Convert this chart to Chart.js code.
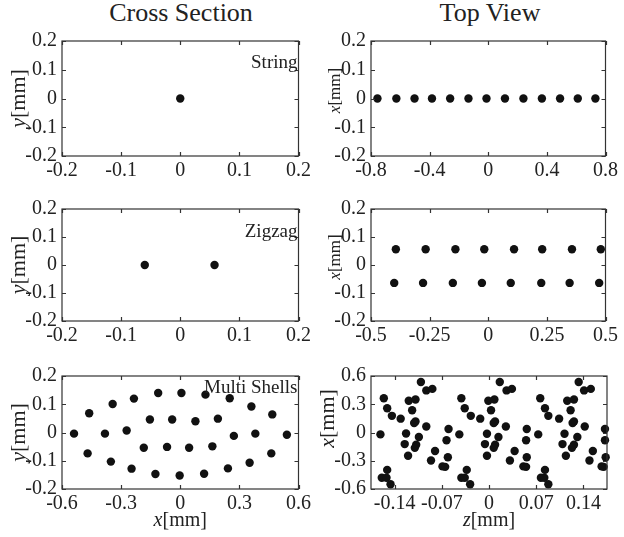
<!DOCTYPE html>
<html>
<head>
<meta charset="UTF-8">
<title>Cross Section / Top View</title>
<script src="https://cdn.jsdelivr.net/npm/chart.js"></script>
<style>
  body { margin: 0; background: #fff; }
  #wrap { position: relative; width: 624px; height: 537px; font-family: "Liberation Serif", serif; color: #222; }
  canvas { position: absolute; }
  .head { position: absolute; top: 0; width: 240px; font-size: 26px; line-height: 25px; text-align: center; }
</style>
</head>
<body>
<div id="wrap">
  <div class="head" style="left:61px">Cross Section</div>
  <div class="head" style="left:370px">Top View</div>
  <canvas id="c1"></canvas>
  <canvas id="c2"></canvas>
  <canvas id="c3"></canvas>
  <canvas id="c4"></canvas>
  <canvas id="c5"></canvas>
  <canvas id="c6"></canvas>
</div>
<script>
// --- data (mm) ---
// String
const stringCrossX = [0];
const stringCrossY = [0];
const stringTopZ = [-0.756, -0.627, -0.503, -0.384, -0.26, -0.135, -0.012, 0.114, 0.24, 0.366, 0.49, 0.611, 0.731];
const stringTopX = [0, 0, 0, 0, 0, 0, 0, 0, 0, 0, 0, 0, 0];

// Zigzag
const zigCrossX = [-0.06, 0.058];
const zigCrossY = [0, 0];
const zigTopZ = [-0.394, -0.267, -0.140, -0.017, 0.110, 0.230, 0.357, 0.480,
                 -0.401, -0.278, -0.151, -0.027, 0.096, 0.226, 0.347, 0.473];
const zigTopX = [0.056, 0.056, 0.056, 0.056, 0.056, 0.056, 0.056, 0.056,
                 -0.064, -0.064, -0.064, -0.064, -0.064, -0.064, -0.064, -0.064];

// Multi shells
const shellCrossX = [-0.539, -0.462, -0.47, -0.343, -0.352, -0.235, -0.247, -0.112, -0.126, 0.006,
                     -0.003, 0.128, 0.121, 0.251, 0.242, 0.361, 0.352, 0.467, 0.462, 0.541,
                     -0.382, -0.272, -0.154, -0.041, 0.077, 0.191, -0.185, -0.067, 0.045, 0.163,
                     0.272, 0.381];
const shellCrossY = [-0.004, 0.068, -0.074, 0.101, -0.103, 0.12, -0.128, 0.14, -0.147, 0.14,
                     -0.152, 0.134, -0.146, 0.121, -0.127, 0.092, -0.107, 0.064, -0.074, -0.008,
                     -0.004, 0.007, 0.046, 0.046, 0.04, 0.049, -0.054, -0.051, -0.054, -0.049,
                     -0.012, -0.004];
const shellTopZ = [-0.101, -0.093, -0.084, -0.156, -0.119, -0.109, -0.151, -0.114, -0.144, -0.131,
                   -0.109, -0.111, -0.093, -0.161, -0.123, -0.060, -0.104, -0.044, -0.063, -0.125,
                   -0.108, -0.110, -0.080, -0.120, -0.061, -0.086, -0.069, -0.065, -0.151, -0.159,
                   -0.152, -0.146, -0.041, -0.036, -0.027, -0.013, -0.041, -0.036, -0.033, -0.028,
                   0.016, 0.026, 0.034, -0.001, 0.008, 0.003, 0.009, 0.007, 0.025, -0.003,
                   0.014, -0.006, 0.009, 0.007, -0.003, 0.038, 0.031, 0.056, 0.055, 0.056,
                   0.051, 0.055, 0.073, 0.076, 0.083, 0.088, 0.104, 0.083, 0.077, 0.082,
                   0.088, 0.133, 0.141, 0.151, 0.116, 0.126, 0.121, 0.126, 0.124, 0.142,
                   0.112, 0.131, 0.109, 0.126, 0.123, 0.114, 0.154, 0.149, 0.172, 0.172,
                   0.173, 0.167, 0.170];
const shellTopX = [0.537, 0.447, 0.463, 0.363, 0.337, 0.350, 0.257, 0.237, 0.177, 0.147,
                   0.117, 0.100, 0.063, -0.020, -0.010, 0.037, -0.047, -0.020, -0.083, -0.123,
                   -0.130, -0.163, -0.197, -0.247, -0.263, -0.297, -0.360, -0.365, -0.397, -0.480,
                   -0.480, -0.550, 0.363, 0.257, 0.177, 0.147, -0.480, -0.480, -0.397, -0.550,
                   0.537, 0.447, 0.463, 0.337, 0.350, 0.237, 0.117, 0.100, 0.063, -0.013,
                   -0.047, -0.123, -0.130, -0.163, -0.247, -0.197, -0.297, 0.037, -0.083, -0.263,
                   -0.360, -0.365, -0.020, 0.363, 0.257, 0.177, 0.147, -0.397, -0.480, -0.480,
                   -0.550, 0.537, 0.447, 0.463, 0.337, 0.350, 0.237, 0.117, 0.100, 0.063,
                   -0.013, -0.047, -0.123, -0.130, -0.163, -0.247, -0.197, -0.297, 0.037, -0.083,
                   -0.263, -0.360, -0.365];

// tick labels
const ticks02 = [-0.2, -0.1, 0, 0.1, 0.2];
const ticks08 = [-0.8, -0.4, 0, 0.4, 0.8];
const ticks05 = [-0.5, -0.25, 0, 0.25, 0.5];
const ticks06 = [-0.6, -0.3, 0, 0.3, 0.6];
const ticks014 = [-0.14, -0.07, 0, 0.07, 0.14];

const FONT = '"Liberation Serif", serif';
const INK = '#222';

// box, inward ticks, inner label and axis titles (MATLAB look)
const frame = {
  id: 'frame',
  afterDraw(chart, args, o) {
    const { ctx, chartArea: a, scales: { x, y } } = chart;
    ctx.save();
    ctx.strokeStyle = '#333';
    ctx.lineWidth = 1.2;
    ctx.strokeRect(a.left, a.top, a.width, a.height);
    ctx.beginPath();
    x.ticks.forEach(t => {
      const p = Math.round(x.getPixelForValue(t.value)) + 0.5;
      ctx.moveTo(p, a.bottom); ctx.lineTo(p, a.bottom - 4);
      ctx.moveTo(p, a.top); ctx.lineTo(p, a.top + 4);
    });
    y.ticks.forEach(t => {
      const p = Math.round(y.getPixelForValue(t.value)) + 0.5;
      ctx.moveTo(a.left, p); ctx.lineTo(a.left + 4, p);
      ctx.moveTo(a.right, p); ctx.lineTo(a.right - 4, p);
    });
    ctx.stroke();

    ctx.fillStyle = INK;
    ctx.textBaseline = 'alphabetic';
    if (o.label) {
      ctx.font = '19px ' + FONT;
      ctx.textAlign = 'right';
      ctx.fillText(o.label, a.right - 1, a.top + o.labelY);
    }
    // axis title: italic letter + [mm]
    const drawTitle = (letter, cx, cy, rot, size) => {
      ctx.save();
      ctx.translate(cx, cy);
      if (rot) ctx.rotate(-Math.PI / 2);
      ctx.textAlign = 'left';
      ctx.font = 'italic ' + size + 'px ' + FONT;
      const w1 = ctx.measureText(letter).width;
      ctx.font = size + 'px ' + FONT;
      const w2 = ctx.measureText('[mm]').width;
      const x0 = -(w1 + w2) / 2;
      const b = Math.round(size * 0.33);
      ctx.font = 'italic ' + size + 'px ' + FONT;
      ctx.fillText(letter, x0, b);
      ctx.font = size + 'px ' + FONT;
      ctx.fillText('[mm]', x0 + w1, b);
      ctx.restore();
    };
    drawTitle(o.yTitle, a.left - o.yTitleOff, (a.top + a.bottom) / 2 - (o.yTitleDy || 0), true, o.yTitleSize);
    if (o.xTitle) drawTitle(o.xTitle, (a.left + a.right) / 2, a.bottom + 30, false, 20);
    ctx.restore();
  }
};

const fmt = v => String(+(+v).toFixed(3));

function panel(id, pos, xs, ys, xr, xt, yr, yt, extra) {
  const cv = document.getElementById(id);
  cv.width = pos.w; cv.height = pos.h;
  cv.style.left = pos.left + 'px'; cv.style.top = pos.top + 'px';
  const pts = xs.map((v, i) => ({ x: v, y: ys[i] }));
  const axis = (r, t, fit, pad) => ({
    type: 'linear', min: r[0], max: r[1],
    grid: { display: false, drawTicks: false },
    border: { display: false },
    afterBuildTicks: s => { s.ticks = t.map(v => ({ value: v })); },
    afterFit: fit,
    ticks: { autoSkip: false, maxRotation: 0, padding: pad, color: INK, font: { family: FONT, size: 20 }, callback: fmt }
  });
  new Chart(cv, {
    type: 'scatter',
    data: { datasets: [{ data: pts, pointRadius: 4.2, pointHoverRadius: 4.2, backgroundColor: '#111', borderWidth: 0, clip: false }] },
    options: {
      responsive: false,
      animation: false,
      events: [],
      layout: { padding: { top: 10, right: 14, left: 0, bottom: 0 } },
      scales: {
        x: axis(xr, xt, s => { s.height = pos.h - 10 - pos.ph; }, 3),
        y: axis(yr, yt, s => { s.width = 62; }, 5)
      },
      plugins: { legend: { display: false }, tooltip: { enabled: false }, frame: extra }
    },
    plugins: [frame]
  });
}

const L = { left: 0, w: 314 }, R = { left: 309, w: 312 };
const r1 = { top: 24, ph: 122, h: 160 }, r2 = { top: 192, ph: 119, h: 157 }, r3 = { top: 359, ph: 120, h: 178 };
const at = (c, r) => Object.assign({}, c, r);

panel('c1', at(L, r1), stringCrossX, stringCrossY, [-0.2, 0.2], ticks02, [-0.2, 0.2], ticks02,
  { label: 'String', labelY: 27, yTitle: 'y', yTitleOff: 44, yTitleSize: 22 });
panel('c2', at(R, r1), stringTopZ, stringTopX, [-0.8, 0.8], ticks08, [-0.2, 0.2], ticks02,
  { yTitle: 'x', yTitleOff: 37, yTitleSize: 17, yTitleDy: 8 });
panel('c3', at(L, r2), zigCrossX, zigCrossY, [-0.2, 0.2], ticks02, [-0.2, 0.2], ticks02,
  { label: 'Zigzag', labelY: 28, yTitle: 'y', yTitleOff: 44, yTitleSize: 22 });
panel('c4', at(R, r2), zigTopZ, zigTopX, [-0.5, 0.5], ticks05, [-0.2, 0.2], ticks02,
  { yTitle: 'x', yTitleOff: 37, yTitleSize: 17, yTitleDy: 8 });
panel('c5', at(L, r3), shellCrossX, shellCrossY, [-0.6, 0.6], ticks06, [-0.2, 0.2], ticks02,
  { label: 'Multi Shells', labelY: 17, yTitle: 'y', yTitleOff: 44, yTitleSize: 22, xTitle: 'x' });
panel('c6', at(R, r3), shellTopZ, shellTopX, [-0.175, 0.175], ticks014, [-0.6, 0.6], ticks06,
  { yTitle: 'x', yTitleOff: 44, yTitleSize: 22, yTitleDy: 14, xTitle: 'z' });
</script>
</body>
</html>
